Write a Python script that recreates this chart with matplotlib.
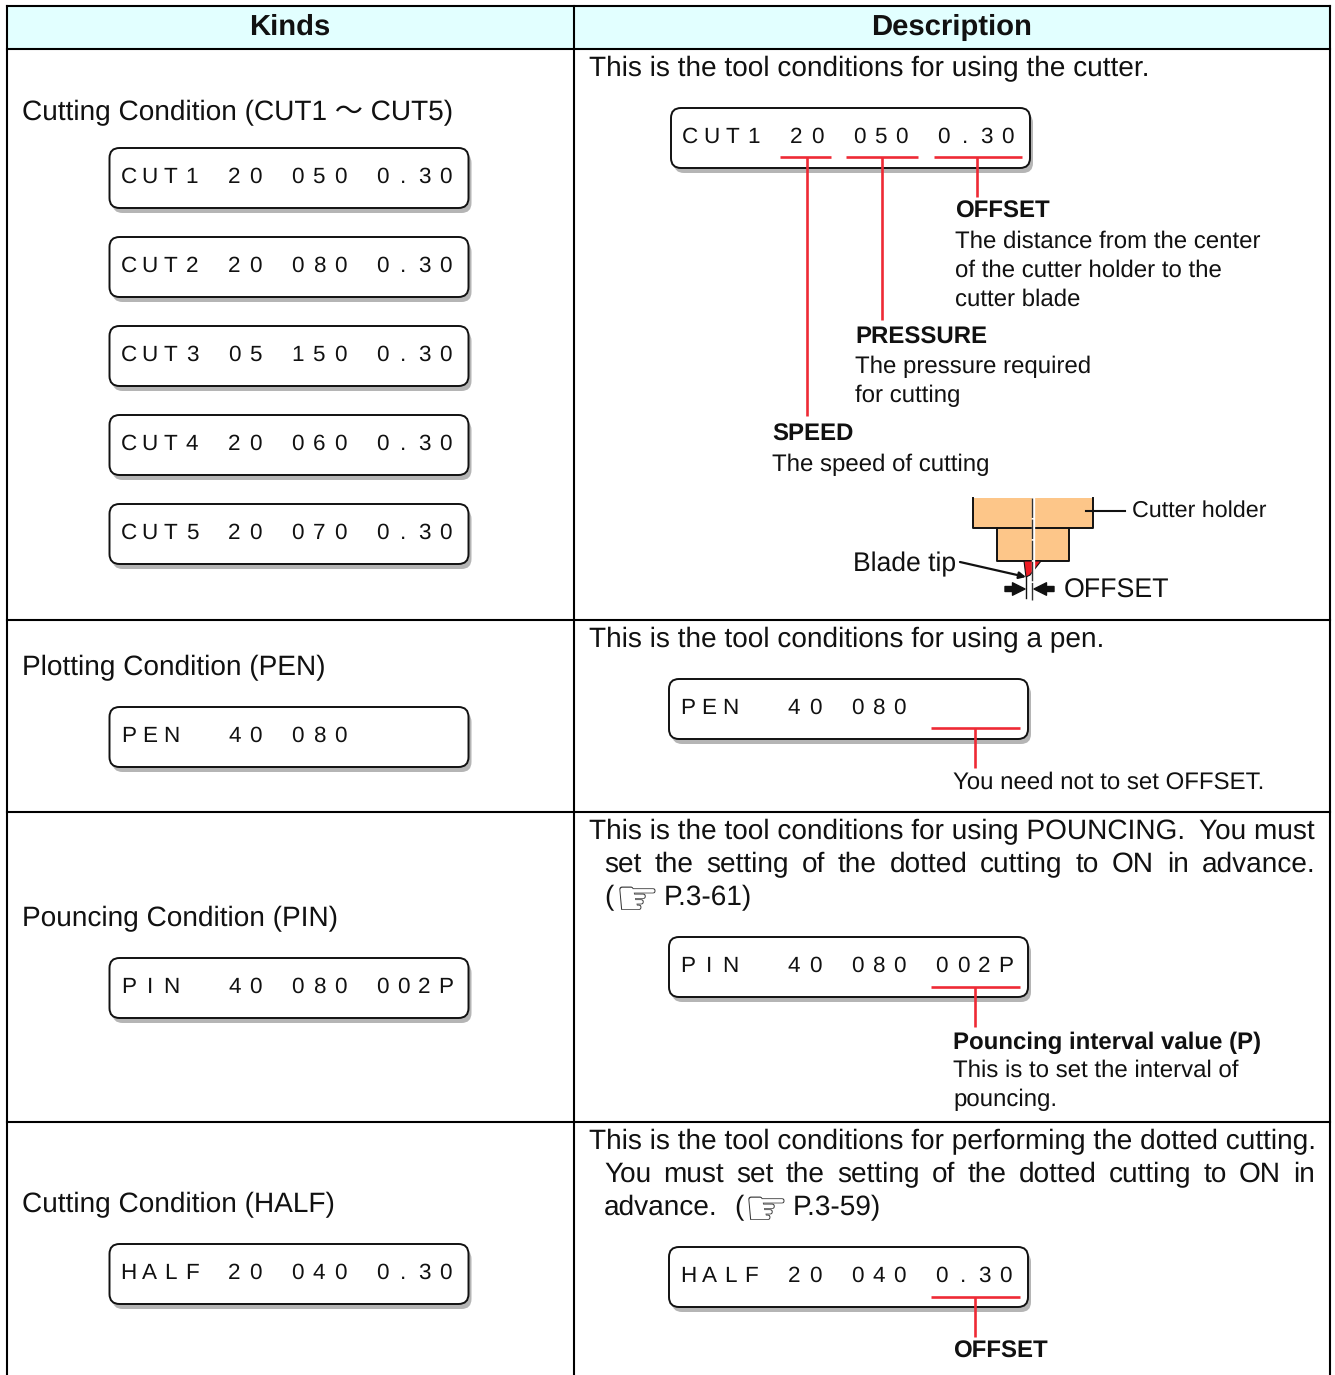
import matplotlib
matplotlib.use("Agg")
import matplotlib.pyplot as plt
from matplotlib.patches import FancyBboxPatch, Rectangle, Polygon

plt.rcParams['font.family'] = ['Liberation Sans', 'Noto Sans CJK JP', 'DejaVu Sans']
plt.rcParams['text.hinting'] = 'no_hinting'

# table content
headers = ["Kinds", "Description"]
kinds = ["Cutting Condition (CUT1 ～ CUT5)", "Plotting Condition (PEN)",
         "Pouncing Condition (PIN)", "Cutting Condition (HALF)"]
left_lcds = ["CUT1 20 050 0.30", "CUT2 20 080 0.30", "CUT3 05 150 0.30",
             "CUT4 20 060 0.30", "CUT5 20 070 0.30", "PEN  40 080",
             "PIN  40 080 002P", "HALF 20 040 0.30"]
right_lcds = ["CUT1 20 050 0.30", "PEN  40 080", "PIN  40 080 002P", "HALF 20 040 0.30"]

W, H = 1335, 1375
RED = "#ee2a35"
fig = plt.figure(figsize=(W / 100, H / 100), dpi=100)
ax = fig.add_axes([0, 0, 1, 1])
ax.set_xlim(0, W)
ax.set_ylim(H, 0)
ax.axis("off")
px = 0.72  # pixels to points at dpi 100
MAIN = 28
SMALL = 24


def text(x, y, s, size=MAIN, weight="normal", ha="left", **kw):
    return ax.text(x, y, s, fontsize=size * px, fontweight=weight, ha=ha,
                   va="center_baseline", color="#111111", **kw)


def justified(x0, x1, y, line, size=MAIN):
    # spread the words over the full width of the column
    words = line.split()
    r = fig.canvas.get_renderer()
    items = [text(x0, y, w, size) for w in words]
    widths = [t.get_window_extent(r).width for t in items]
    gap = (x1 - x0 - sum(widths)) / (len(words) - 1)
    x = x0
    for t, w in zip(items, widths):
        t.set_x(x)
        x += w + gap


def lcd(x, y, s):
    # x, y is the top left corner of the display
    w, h = 359, 60
    ax.add_patch(FancyBboxPatch((x + 3, y + 5), w, h, boxstyle="round,pad=0,rounding_size=10",
                                fc="#b5b5b5", ec="none", zorder=2))
    ax.add_patch(FancyBboxPatch((x, y), w, h, boxstyle="round,pad=0,rounding_size=10",
                                fc="white", ec="#111111", lw=1.4, zorder=3))
    for i, c in enumerate(s):
        if c != " ":
            ax.text(x + 19 + 21.15 * i, y + 27, c, fontsize=22.5 * px, ha="center",
                    va="center_baseline", color="#111111", zorder=4)


def red(x0, y0, x1, y1):
    ax.plot([x0, x1], [y0, y1], color=RED, lw=1.9, zorder=5, solid_capstyle="butt")


def hand(x, y):
    ax.text(x, y, "☞", fontsize=50 * px, family="DejaVu Sans", ha="left",
            va="center_baseline", color="#333333")


# header band and grid
ax.add_patch(Rectangle((7, 6), 1323, 43, fc="#e2ffff", ec="none"))
for y in [6, 49, 620, 812, 1122]:
    ax.plot([7, 1330], [y, y], color="black", lw=1.5, solid_capstyle="projecting")
for x in [7, 574, 1330]:
    ax.plot([x, x], [6, H], color="black", lw=1.5)
text(290, 24, headers[0], 29.3, "bold", ha="center")
text(952, 24, headers[1], 29.3, "bold", ha="center")

# left column
for y, s in zip([110, 665, 916, 1202], kinds):
    text(22, y, s)
for y, s in zip([148, 237, 326, 415, 504, 707, 958, 1244], left_lcds):
    lcd(109.5, y, s)

# cutter section
text(589, 66, "This is the tool conditions for using the cutter.")
lcd(671, 108, right_lcds[0])
for x0, x1 in [(780, 831), (846, 918), (934, 1022)]:
    red(x0, 157, x1, 157)
red(807, 157, 807, 416)
red(881.5, 157, 881.5, 320)
red(977, 157, 977, 197)
text(955, 209, "OFFSET", SMALL, "bold")
for y, s in zip([239, 268, 297], ["The distance from the center", "of the cutter holder to the", "cutter blade"]):
    text(955, y, s, SMALL)
text(855, 335, "PRESSURE", SMALL, "bold")
for y, s in zip([364, 393], ["The pressure required", "for cutting"]):
    text(855, y, s, SMALL)
text(772, 432, "SPEED", SMALL, "bold")
text(772, 462, "The speed of cutting", SMALL)

# cutter holder sketch
ax.add_patch(Polygon([(973, 498), (1093, 498), (1093, 528), (1069, 528), (1069, 561),
                      (997, 561), (997, 528), (973, 528)], fc="#fdc689", ec="none", zorder=2))
ax.plot([973, 973, 1093, 1093], [498, 528, 528, 498], color="#111111", lw=1.4, zorder=3)
ax.plot([997, 997, 1069, 1069], [528, 561, 561, 528], color="#111111", lw=1.4, zorder=3)
ax.add_patch(Polygon([(1024, 561), (1041, 561), (1030, 575), (1026, 577)], fc="#ee1c25", ec="#111111", lw=0.8, zorder=3))
ax.plot([1033, 1033], [498, 600], color="white", lw=2.4, zorder=4)
ax.plot([1032, 1032], [498, 600], color="#333333", lw=1, zorder=5, dashes=(14, 1.2))
ax.plot([1086, 1125], [511, 511], color="#111111", lw=1.5, zorder=5)
text(1132, 508, "Cutter holder", 23.3)
text(853, 562, "Blade tip", 26.5)
ax.annotate("", xy=(1026, 577), xytext=(960, 562), zorder=6,
            arrowprops=dict(arrowstyle="-|>", color="#111111", lw=1.6, shrinkA=0, shrinkB=0))
ax.plot([1026, 1026], [577, 598], color="#111111", lw=1, zorder=5)
ax.annotate("", xy=(1025, 589), xytext=(1005, 589), zorder=6,
            arrowprops=dict(arrowstyle="simple", color="#111111", shrinkA=0, shrinkB=0, mutation_scale=18))
ax.annotate("", xy=(1034, 589), xytext=(1054, 589), zorder=6,
            arrowprops=dict(arrowstyle="simple", color="#111111", shrinkA=0, shrinkB=0, mutation_scale=18))
text(1064, 588, "OFFSET", 26.7)

# pen section
text(589, 637, "This is the tool conditions for using a pen.")
lcd(669, 679, right_lcds[1])
red(931, 728, 1020, 728)
red(975, 728, 975, 768)
text(953, 780, "You need not to set OFFSET.", 24)

# pouncing section
text(589, 829, "This is the tool conditions for using POUNCING.")
text(1199, 829, "You must")
justified(604, 1315, 862, "set the setting of the dotted cutting to ON in advance.")
text(604, 895, "(")
hand(615, 896)
text(664, 895, "P.3-61)")
lcd(669, 937, right_lcds[2])
red(931, 987, 1020, 987)
red(975, 987, 975, 1027)
text(953, 1040, "Pouncing interval value (P)", SMALL, "bold")
for y, s in zip([1068, 1097], ["This is to set the interval of", "pouncing."]):
    text(953, y, s, SMALL)

# half section
text(589, 1139, "This is the tool conditions for performing the dotted cutting.")
justified(604, 1315, 1172, "You must set the setting of the dotted cutting to ON in")
text(604, 1205, "advance.")
text(734, 1205, "(")
hand(744, 1206)
text(793, 1205, "P.3-59)")
lcd(669, 1247, right_lcds[3])
red(931, 1297, 1020, 1297)
red(975, 1297, 975, 1337)
text(953, 1349, "OFFSET", SMALL, "bold")

fig.savefig("out.png", dpi=100)
